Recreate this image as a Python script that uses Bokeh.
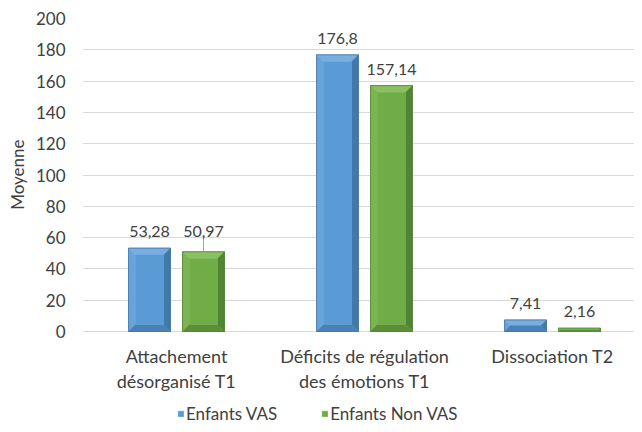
from bokeh.plotting import figure
from bokeh.models import Range1d, FixedTicker, Legend, LegendItem, ColumnDataSource, LabelSet, Title
from bokeh.core.properties import value
from bokeh.embed import file_html
from bokeh.resources import INLINE

categories = ["Attachement\ndésorganisé T1", "Déficits de régulation\ndes émotions T1", "Dissociation T2"]
series_names = ["Enfants VAS", "Enfants Non VAS"]
vas = [53.28, 176.8, 7.41]
non_vas = [50.97, 157.14, 2.16]
y_ticks = [0, 20, 40, 60, 80, 100, 120, 140, 160, 180, 200]

FONT = "Lato"
TXT = "#404040"

FRAME_W = 552
PLOT_H = 313          # pixel height of the 0..200 value band
EXTRA_H = 97          # room below the baseline for category labels and legend
FRAME_H = PLOT_H + EXTRA_H
px_x = 2.936 / FRAME_W
px_y = 200 / PLOT_H

p = figure(output_backend="svg", toolbar_location=None,
           frame_width=FRAME_W, frame_height=FRAME_H,
           x_range=Range1d(-0.5, 2.436), y_range=Range1d(-EXTRA_H * px_y, 200),
           min_border_left=82, min_border_right=0, min_border_top=18, min_border_bottom=0)
p.outline_line_color = None
p.background_fill_color = "white"

offset = 0.1436
bw = 0.223

styles = [
    dict(face="#5b9bd5", top="#78aee2", left="#68a4dc", right="#4279ad", bottom="#4a80b3", edge="#41719c"),
    dict(face="#70ad47", top="#88c062", left="#7ab552", right="#528533", bottom="#5a8e38", edge="#507e32"),
]

renderers = []
for si, (vals, sty) in enumerate(zip([vas, non_vas], styles)):
    faces = {"face": ([], []), "top": ([], []), "left": ([], []), "right": ([], []), "bottom": ([], [])}
    for i, v in enumerate(vals):
        cx = i + (-offset if si == 0 else offset)
        x0, x1 = cx - bw / 2, cx + bw / 2
        y0, y1 = 0, v
        by = min(7 * px_y, v / 2)
        bx = 7 * px_x * (by / (7 * px_y))
        ix0, ix1, iy0, iy1 = x0 + bx, x1 - bx, y0 + by, y1 - by
        faces["face"][0].append([ix0, ix1, ix1, ix0]); faces["face"][1].append([iy0, iy0, iy1, iy1])
        faces["top"][0].append([x0, x1, ix1, ix0]); faces["top"][1].append([y1, y1, iy1, iy1])
        faces["bottom"][0].append([x0, x1, ix1, ix0]); faces["bottom"][1].append([y0, y0, iy0, iy0])
        faces["left"][0].append([x0, ix0, ix0, x0]); faces["left"][1].append([y0, iy0, iy1, y1])
        faces["right"][0].append([x1, ix1, ix1, x1]); faces["right"][1].append([y0, iy0, iy1, y1])
    for k in ["top", "left", "right", "bottom"]:
        p.patches(xs=faces[k][0], ys=faces[k][1], fill_color=sty[k], line_color=sty[k], line_width=0.5)
    r = p.patches(xs=faces["face"][0], ys=faces["face"][1], fill_color=sty["face"], line_color=sty["face"], line_width=0.5)
    ox, oy = [], []
    for i, v in enumerate(vals):
        cx = i + (-offset if si == 0 else offset)
        ox.append([cx - bw / 2, cx + bw / 2, cx + bw / 2, cx - bw / 2]); oy.append([0, 0, v, v])
    p.patches(xs=ox, ys=oy, fill_color=None, line_color=sty["edge"], line_width=0.8)
    renderers.append(r)

# data labels
lab_x, lab_y, lab_t = [], [], []
seg_x, seg_y0, seg_y1 = [], [], []
gap = 11 * px_y
for i in range(3):
    a, b = vas[i], non_vas[i]
    close = abs(a - b) < 5
    for si, v in enumerate([a, b]):
        cx = i + (-offset if si == 0 else offset)
        ly = max(a, b) if close else v
        lab_x.append(cx); lab_y.append(ly + gap)
        lab_t.append(("%g" % v).replace(".", ","))
        if close and v < ly:
            seg_x.append(cx); seg_y0.append(v); seg_y1.append(ly + gap)
p.segment(x0=seg_x, y0=seg_y0, x1=seg_x, y1=seg_y1, line_color="#a6a6a6", line_width=1)
src = ColumnDataSource(dict(x=lab_x, y=lab_y, t=lab_t))
p.add_layout(LabelSet(x="x", y="y", text="t", source=src, text_align="center", text_baseline="bottom",
                      text_font=value(FONT), text_font_size="16px", text_color=TXT))

# category labels beneath the baseline, each line centred
cx_, cy_, ct_ = [], [], []
for i, c in enumerate(categories):
    for k, line in enumerate(c.split("\n")):
        cx_.append(i); cy_.append(-(24 + 25 * k) * px_y); ct_.append(line)
cat_src = ColumnDataSource(dict(x=cx_, y=cy_, t=ct_))
p.add_layout(LabelSet(x="x", y="y", text="t", source=cat_src, text_align="center", text_baseline="middle",
                      text_font=value(FONT), text_font_size="18px", text_color=TXT))

# axes
p.xaxis.visible = False
p.xgrid.visible = False
p.ygrid.grid_line_color = "#d9d9d9"
p.ygrid.ticker = FixedTicker(ticks=y_ticks)
p.yaxis.ticker = FixedTicker(ticks=y_ticks)
p.yaxis.axis_line_color = None
p.yaxis.major_tick_line_color = None
p.yaxis.minor_tick_line_color = None
p.yaxis.major_label_standoff = 11
p.yaxis.major_label_text_font = FONT
p.yaxis.major_label_text_font_size = "17px"
p.yaxis.major_label_text_color = TXT

p.add_layout(Title(text="Moyenne", align="right", offset=121, text_font=FONT, text_font_size="17px",
                   text_font_style="normal", text_color=TXT, standoff=9), "left")

legend = Legend(items=[LegendItem(label=series_names[k], renderers=[renderers[k]]) for k in range(2)],
                orientation="horizontal", location=(95, 4), padding=0, margin=0, spacing=44,
                glyph_width=7, glyph_height=7, label_standoff=2, label_text_font=FONT,
                label_text_font_size="17px", label_text_color=TXT, border_line_color=None,
                background_fill_alpha=0)
p.add_layout(legend, "center")

open("out.html", "w").write(file_html(p, INLINE))
